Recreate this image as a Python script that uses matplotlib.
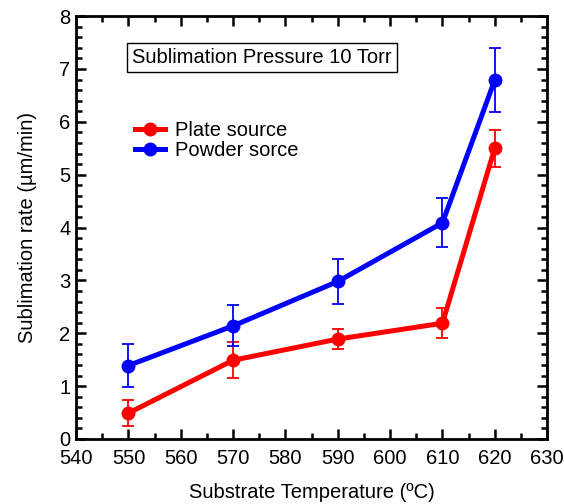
import numpy as np
import matplotlib
matplotlib.use('Agg')
import matplotlib.pyplot as plt
from matplotlib.ticker import MultipleLocator

plt.rcParams['font.family'] = ['Liberation Sans', 'DejaVu Sans']

temps = [550, 570, 590, 610, 620]
plate = [0.49, 1.49, 1.89, 2.19, 5.50]
plate_err = [0.24, 0.34, 0.19, 0.28, 0.35]
powder = [1.39, 2.14, 2.98, 4.09, 6.79]
powder_err = [0.41, 0.39, 0.43, 0.46, 0.60]

fig = plt.figure(figsize=(5.64, 5.04), dpi=100)
ax = fig.add_axes([0.135, 0.129, 0.835, 0.839])

for y, err, col, lab in [(plate, plate_err, '#ff0000', 'Plate source'),
                         (powder, powder_err, '#0000ff', 'Powder sorce')]:
    ax.plot(temps, y, color=col, lw=3.6, marker='o', ms=9, label=lab)
    ax.errorbar(temps, y, yerr=err, fmt='none', ecolor=col, elinewidth=1.3,
                capsize=4.3, capthick=1.3)

ax.set_xlim(540, 630)
ax.set_ylim(0, 8)
ax.xaxis.set_major_locator(MultipleLocator(10))
ax.xaxis.set_minor_locator(MultipleLocator(5))
ax.yaxis.set_major_locator(MultipleLocator(1))
ax.yaxis.set_minor_locator(MultipleLocator(0.2))
ax.tick_params(which='both', direction='in', top=True, right=True, width=1.8,
               labelsize=14.5, colors='black')
ax.tick_params(which='major', length=7.5)
ax.tick_params(which='minor', length=4)
ax.tick_params(axis='x', pad=7)
ax.tick_params(axis='y', pad=4)
for s in ax.spines.values():
    s.set_linewidth(2)

ax.set_xlabel('Substrate Temperature (ºC)', fontsize=14.5, labelpad=11)
ax.set_ylabel('Sublimation rate (µm/min)', fontsize=14.5, labelpad=16)

ax.text(0.395, 0.903, 'Sublimation Pressure 10 Torr', transform=ax.transAxes,
        ha='center', va='center', fontsize=14.5,
        bbox=dict(boxstyle='square,pad=0.25', fc='white', ec='black', lw=1))

ax.legend(loc='upper left', bbox_to_anchor=(0.125, 0.753), frameon=False,
          fontsize=14.5, handlelength=1.5, handletextpad=0.5, labelspacing=0.05,
          borderpad=0, borderaxespad=0)

fig.savefig('out.png', dpi=100)
